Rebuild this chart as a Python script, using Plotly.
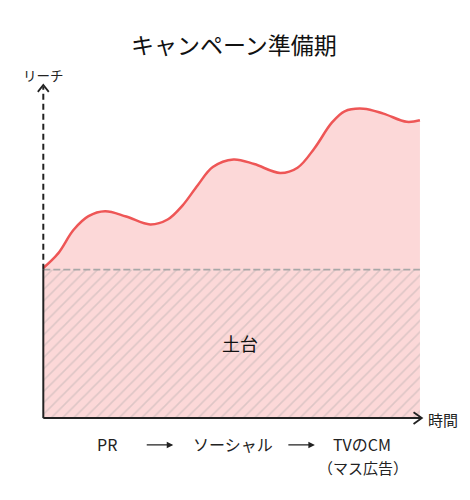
import plotly.graph_objects as go

# ---- data ----
time = [0, 4, 8, 12, 16.4, 22, 28.4, 33, 37, 41, 45, 50.5, 56, 62.9, 67.5,
        72, 76.5, 80, 85, 90.3, 96.5, 100]
reach = [45.5, 50.0, 57.0, 61.2, 62.7, 61.1, 58.7, 60.2, 64.5, 70.6, 76.1, 78.4,
         77.0, 74.3, 75.9, 81.8, 89.4, 93.0, 93.8, 92.3, 89.8, 90.3]
base_level = 45
base_label = "土台"
stages = ["PR", "ソーシャル", "TVのCM"]
stage_x = [17, 50.4, 84.6]
stage_note = "（マス広告）"
arrow_tips = [34.5, 72.1]
title = "キャンペーン準備期"
y_label = "リーチ"
x_label = "時間"

FONT = "Noto Sans CJK JP, Noto Sans, sans-serif"
INK = "#222222"

fig = go.Figure()

# reach area (pink)
fig.add_trace(go.Scatter(
    x=time, y=reach, mode="lines", fill="tozeroy",
    fillcolor="rgb(252,216,216)",
    line=dict(color="#ee5656", width=2.5, shape="spline", smoothing=1.0),
    hoverinfo="skip", showlegend=False))

# hatched base area
fig.add_trace(go.Scatter(
    x=[time[0], time[-1]], y=[base_level, base_level], mode="lines", fill="tozeroy",
    fillcolor="rgba(0,0,0,0)",
    fillpattern=dict(shape="/", fgcolor="#bfb4b4", bgcolor="rgba(0,0,0,0)",
                     size=8, solidity=0.2),
    line=dict(color="#a8a8a8", width=1.6, dash="7px,3px"),
    hoverinfo="skip", showlegend=False))

# y axis: solid below the base, dashed above
fig.add_trace(go.Scatter(x=[0, 0], y=[0, base_level], mode="lines",
                         line=dict(color=INK, width=2), hoverinfo="skip", showlegend=False))
fig.add_trace(go.Scatter(x=[0, 0], y=[base_level, 100.5], mode="lines",
                         line=dict(color=INK, width=2, dash="6px,4px"),
                         hoverinfo="skip", showlegend=False))
# y arrow head (chevron)
fig.add_trace(go.Scatter(x=[-1.45, 0, 1.45], y=[98.9, 101, 98.9], mode="lines",
                         line=dict(color=INK, width=1.8), hoverinfo="skip", showlegend=False))
# x axis
fig.add_trace(go.Scatter(x=[0, 100.4], y=[0, 0], mode="lines",
                         line=dict(color=INK, width=2), hoverinfo="skip", showlegend=False))
fig.add_trace(go.Scatter(x=[98.3, 100.5, 98.3], y=[1.8, 0, -1.8], mode="lines",
                         line=dict(color=INK, width=1.8), hoverinfo="skip", showlegend=False))

ann = []
ann.append(dict(text=title, xref="paper", yref="paper", x=0.5, y=1.087,
                showarrow=False, font=dict(size=23, color="#111111", family=FONT),
                xanchor="center", yanchor="middle"))
ann.append(dict(text=y_label, xref="x", yref="paper", x=0, y=1.0,
                showarrow=False, font=dict(size=13.5, color=INK, family=FONT),
                xanchor="center", yanchor="middle"))
ann.append(dict(text=x_label, xref="paper", yref="paper", x=1.0196, y=0.025,
                showarrow=False, font=dict(size=15, color=INK, family=FONT),
                xanchor="center", yanchor="middle"))
ann.append(dict(text=base_label, xref="x", yref="y", x=52.3, y=22.7,
                showarrow=False, font=dict(size=18, color="#111111", family=FONT),
                xanchor="center", yanchor="middle"))
for sx, s in zip(stage_x, stages):
    ann.append(dict(text=s, xref="x", yref="paper", x=sx, y=-0.045,
                    showarrow=False, font=dict(size=16, color=INK, family=FONT),
                    xanchor="center", yanchor="middle", borderpad=0))
ann.append(dict(text=stage_note, xref="x", yref="paper", x=stage_x[-1] + 0.3, y=-0.111,
                showarrow=False, font=dict(size=15, color=INK, family=FONT),
                xanchor="center", yanchor="middle", borderpad=0))
for tip in arrow_tips:
    ann.append(dict(text="", xref="x", yref="paper", x=tip, y=-0.048,
                    showarrow=True, ax=-28, ay=0, axref="pixel", ayref="pixel",
                    arrowhead=2, arrowsize=1, arrowwidth=1.3, arrowcolor=INK))

# page body adds an 8px offset, so margins are shifted to compensate
fig.update_layout(
    width=470, height=500,
    margin=dict(l=23.7, r=42.9, t=66.8, b=80.1),
    paper_bgcolor="white", plot_bgcolor="white",
    xaxis=dict(range=[-3, 104], visible=False, fixedrange=True),
    yaxis=dict(range=[-3, 104], visible=False, fixedrange=True),
    annotations=ann,
    showlegend=False,
)

fig.write_html("out.html")
